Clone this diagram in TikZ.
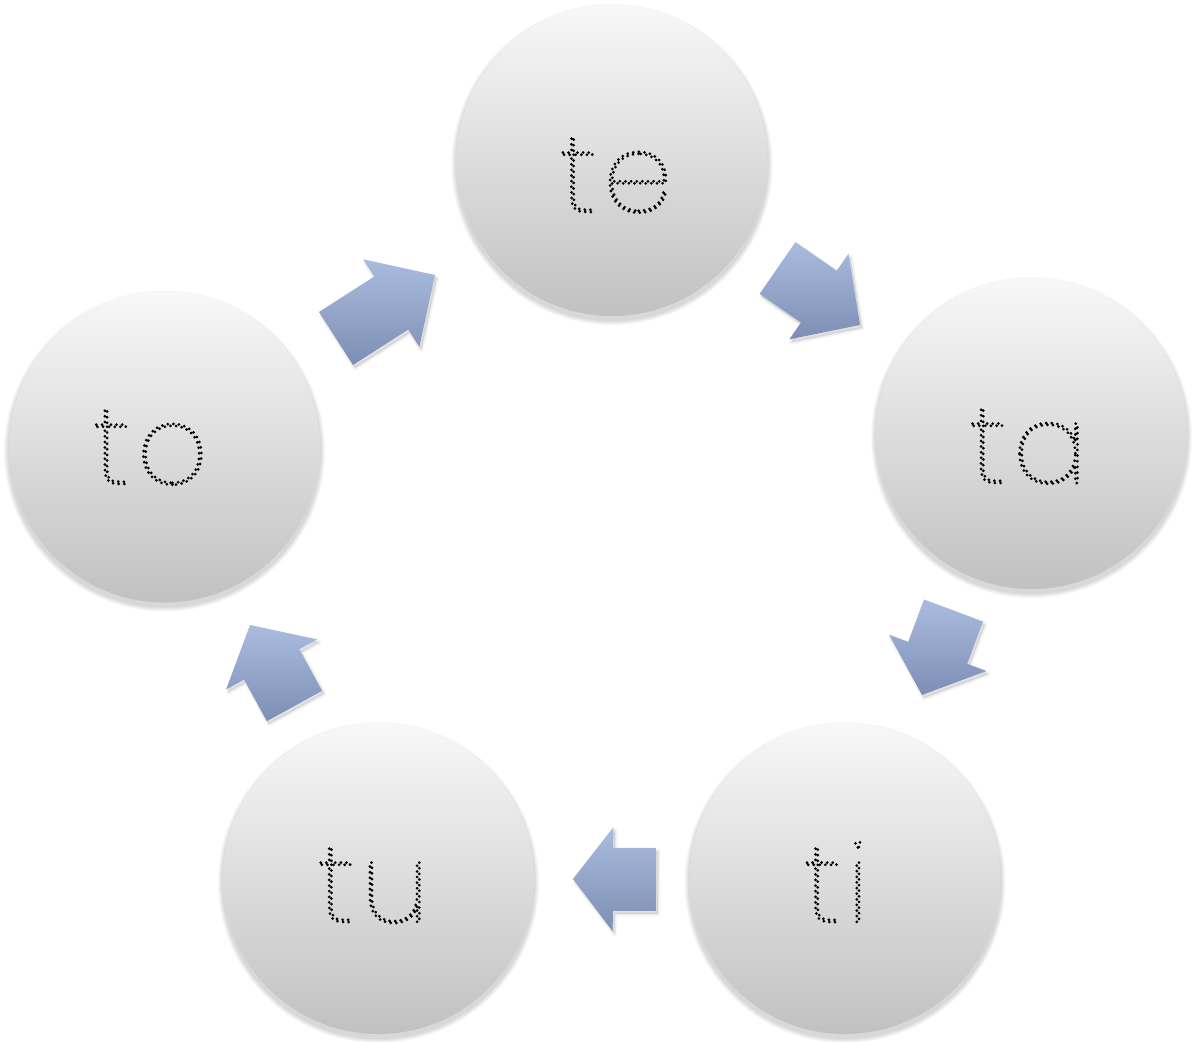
\documentclass[tikz,border=0pt]{standalone}
\usepackage{fontspec}
\usetikzlibrary{calc}
\IfFontExistsTF{Poppins Thin}{\newfontfamily\dotfont{Poppins Thin}[LetterSpace=6]}{%
 \IfFontExistsTF{Poppins ExtraLight}{\newfontfamily\dotfont{Poppins ExtraLight}[LetterSpace=6]}{%
  \IfFontExistsTF{Poppins Light}{\newfontfamily\dotfont{Poppins Light}[LetterSpace=6]}{\newfontfamily\dotfont{Poppins}[LetterSpace=6]}}}

\definecolor{circtop}{RGB}{248,248,248}
\definecolor{circbot}{RGB}{193,193,193}
\definecolor{arrtop}{RGB}{170,188,222}
\definecolor{arrbot}{RGB}{125,142,181}

\newcommand{\dottxt}[1]{\special{pdf:literal direct 1 Tr 1 J 1 j [0 5.6] 0 d 3 w}#1\special{pdf:literal direct 0 Tr 0 J 0 j [] 0 d}}

\newcommand{\mkarrow}[2]{%
 \coordinate (#1h) at ($(#1t)!#2!(#1b)$);
 \coordinate (#1l1) at ($(#1b)!31.5pt!90:(#1t)$);
 \coordinate (#1r1) at ($(#1b)!31.5pt!-90:(#1t)$);
 \coordinate (#1l2) at ($(#1h)!31.5pt!90:(#1t)$);
 \coordinate (#1r2) at ($(#1h)!31.5pt!-90:(#1t)$);
 \coordinate (#1l3) at ($(#1h)!52pt!90:(#1t)$);
 \coordinate (#1r3) at ($(#1h)!52pt!-90:(#1t)$);
 \foreach \k in {1,...,4}{%
  \path[arrshadow, line width=\k*1.3pt] (#1l1) -- (#1l2) -- (#1l3) -- (#1t) -- (#1r3) -- (#1r2) -- (#1r1) -- cycle;}
 \path[arrowbody] (#1l1) -- (#1l2) -- (#1l3) -- (#1t) -- (#1r3) -- (#1r2) -- (#1r1) -- cycle;
}

\begin{document}
\begin{tikzpicture}[x=1pt,y=-1pt,
  circ/.style={circle, minimum size=311pt, inner sep=0pt, top color=circtop, bottom color=circbot, draw=none},
  circshadow/.style={fill=black, fill opacity=0.03, draw=none},
  word/.style={anchor=base, inner sep=0pt, font=\dotfont\fontsize{110}{110}\selectfont, text=black},
  arrowbody/.style={top color=arrtop, bottom color=arrbot, draw=none},
  arrshadow/.style={fill=black, fill opacity=0.025, draw=black, draw opacity=0.02, line join=round, transform canvas={shift={(2,3)}}}]
\useasboundingbox (0,0) rectangle (1196,1041);
\fill[white] (0,0) rectangle (1196,1041);

% circle centres
\coordinate (cte) at (612,160.5);
\coordinate (cta) at (1031.5,433.5);
\coordinate (cti) at (845,878.5);
\coordinate (ctu) at (378.5,878.5);
\coordinate (cto) at (164.5,447);

% circle shadows
\foreach \c in {cte,cta,cti,ctu,cto}{%
  \foreach \k in {1,...,5}{%
    \fill[circshadow] ($(\c)+(0,4)$) circle[radius=155.5+\k*1.0];
  }}

% circles
\node[circ] (te) at (cte) {};
\node[circ] (ta) at (cta) {};
\node[circ] (ti) at (cti) {};
\node[circ] (tu) at (ctu) {};
\node[circ] (to) at (cto) {};

% syllables
\node[word] (wte) at (616,212) {\dottxt{te}};
\node[word] (wta) at (1028,483) {\dottxt{ta}};
\node[word] (wti) at (836,922) {\dottxt{ti}};
\node[word] (wtu) at (373,922) {\dottxt{tu}};
\node[word] (wto) at (150.5,484) {\dottxt{to}};

% block arrows: back midpoint (b) and tip (t)
\coordinate (aAb) at (336,338.5);   \coordinate (aAt) at (435,275);
\coordinate (aBb) at (777.5,268);   \coordinate (aBt) at (860,325);
\coordinate (aCb) at (953.5,610.5); \coordinate (aCt) at (922,695);
\coordinate (aDb) at (656,879.5);   \coordinate (aDt) at (573,879);
\coordinate (aEb) at (294.5,706);   \coordinate (aEt) at (250,625);
\mkarrow{aA}{52pt}
\mkarrow{aB}{50pt}
\mkarrow{aC}{45pt}
\mkarrow{aD}{40pt}
\mkarrow{aE}{45pt}
\end{tikzpicture}
\end{document}
